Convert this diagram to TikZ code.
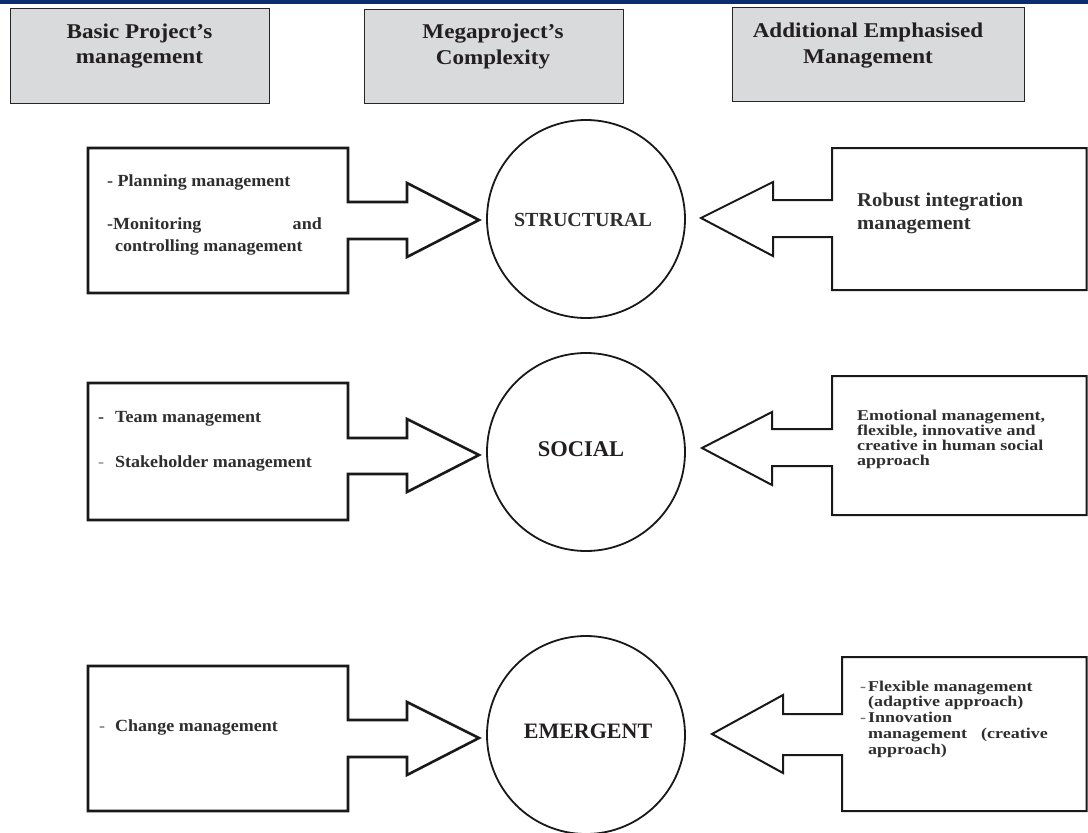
\documentclass[tikz,border=0pt]{standalone}
\usepackage{fontspec}
\setmainfont{Liberation Serif}
\newfontfamily\headfont[FakeStretch=1.1]{Liberation Serif}
\newfontfamily\bodyfont[FakeStretch=1.06]{Liberation Serif}
\newfontfamily\tightfont[FakeStretch=1.2]{Liberation Serif}
\definecolor{barblue}{HTML}{0B2D70}
\definecolor{headgray}{HTML}{D9DADB}
\definecolor{textdark}{HTML}{231F20}
\definecolor{textgray}{HTML}{2E2E2E}
\begin{document}
\begin{tikzpicture}[x=1pt,y=-1pt,
  hdbox/.style={draw=black!85, fill=headgray, line width=1.4pt, inner sep=0pt},
  hdtext/.style={font=\headfont\bfseries\fontsize{21}{25}\selectfont, text=textdark, inner sep=0pt, anchor=base},
  bodytext/.style={font=\bodyfont\bfseries\fontsize{17}{18}\selectfont, text=textgray, inner sep=0pt, anchor=base west},
  bodyright/.style={bodytext, anchor=base east},
  bigbody/.style={bodytext, font=\bodyfont\bfseries\fontsize{19.5}{22}\selectfont},
  tightbody/.style={bodytext, font=\tightfont\bfseries\fontsize{15}{15}\selectfont},
  tightright/.style={tightbody, anchor=base east},
  leftshape/.style={draw=black!90, line width=2.6pt, line join=miter},
  rightshape/.style={draw=black!90, line width=2pt, line join=miter},
  ring/.style={circle, draw=black!90, line width=1.8pt, minimum size=198pt, inner sep=0pt},
  ringtext/.style={font=\bfseries, text=textdark, inner sep=0pt, anchor=base}
]
\useasboundingbox (0,0) rectangle (1088,833);
\fill[white] (0,0) rectangle (1088,833);

% top rule
\fill[barblue] (0,0) rectangle (1088,4);

% column headings
\node[hdbox, minimum width=259pt, minimum height=95pt, anchor=north west] (hdBasic) at (10,8) {};
\node[hdtext] (hdBasicA) at (139.5,38) {Basic Project’s};
\node[hdtext] (hdBasicB) at (139.5,63) {management};

\node[hdbox, minimum width=259pt, minimum height=94pt, anchor=north west] (hdMega) at (364,9) {};
\node[hdtext] (hdMegaA) at (493,38) {Megaproject’s};
\node[hdtext] (hdMegaB) at (493,64) {Complexity};

\node[hdbox, minimum width=292pt, minimum height=94pt, anchor=north west] (hdAdd) at (732,7) {};
\node[hdtext] (hdAddA) at (868,37) {Additional Emphasised};
\node[hdtext] (hdAddB) at (868,63) {Management};

% complexity circles
\node[ring] (structural) at (586,219) {};
\node[ringtext, font=\bfseries\fontsize{20}{24}\selectfont, text=textgray] (structuralLbl) at (583,226) {STRUCTURAL};
\node[ring] (social) at (586,452) {};
\node[ringtext, font=\bfseries\fontsize{22.5}{26}\selectfont] (socialLbl) at (581,456) {SOCIAL};
\node[ring] (emergent) at (586,735) {};
\node[ringtext, font=\bfseries\fontsize{22}{26}\selectfont] (emergentLbl) at (588,738) {EMERGENT};

% basic management boxes with block arrows pointing right
\draw[leftshape] (88,148) -- (348,148) -- (348,202) -- (407,202) -- (407,183) -- (479,220)
  -- (407,257) -- (407,239) -- (348,239) -- (348,293) -- (88,293) -- cycle;
\draw[leftshape] (88,383) -- (348,383) -- (348,438) -- (407,438) -- (407,419) -- (479,455)
  -- (407,492) -- (407,474) -- (348,474) -- (348,520) -- (88,520) -- cycle;
\draw[leftshape] (88,666) -- (348,666) -- (348,720) -- (407,720) -- (407,702) -- (479,738)
  -- (407,775) -- (407,757) -- (348,757) -- (348,811) -- (88,811) -- cycle;

% additional management boxes with block arrows pointing left
\draw[rightshape] (1086.5,148) -- (832,148) -- (832,200) -- (773,200) -- (773,182) -- (701,218)
  -- (773,256) -- (773,237) -- (832,237) -- (832,290) -- (1086.5,290) -- cycle;
\draw[rightshape] (1086.5,376) -- (832,376) -- (832,429) -- (772,429) -- (772,412) -- (702,448)
  -- (772,485) -- (772,466) -- (832,466) -- (832,515) -- (1086.5,515) -- cycle;
\draw[rightshape] (1086.5,657) -- (842,657) -- (842,714) -- (783,714) -- (783,695) -- (712,734)
  -- (783,773) -- (783,755) -- (842,755) -- (842,811) -- (1086.5,811) -- cycle;

% structural row texts
\node[bodytext] (plan) at (107,186) {- Planning management};
\node[bodytext] (monA) at (107,229) {-Monitoring};
\node[bodyright] (monB) at (322,229) {and};
\node[bodytext] (monC) at (115,251) {controlling management};
\node[bigbody] (robA) at (857,206) {Robust integration};
\node[bigbody] (robB) at (857,229) {management};

% social row texts
\node[bodytext] (teamDash) at (98,422) {-};
\node[bodytext] (team) at (115,422) {Team management};
\node[bodytext, text=black!45] (stakeDash) at (98,467) {-};
\node[bodytext] (stake) at (115,467) {Stakeholder management};
\node[tightbody] (emoA) at (857,420) {Emotional management,};
\node[tightbody] (emoB) at (857,435) {flexible, innovative and};
\node[tightbody] (emoC) at (857,450) {creative in human social};
\node[tightbody] (emoD) at (857,465) {approach};

% emergent row texts
\node[bodytext, text=black!55] (changeDash) at (99,731) {-};
\node[bodytext] (change) at (115,731) {Change management};
\node[tightbody, text=black!55] (flexDash) at (860,691) {-};
\node[tightbody] (flexA) at (868,691) {Flexible management};
\node[tightbody] (flexB) at (868,706) {(adaptive approach)};
\node[tightbody, text=black!55] (innDash) at (860,722) {-};
\node[tightbody] (innA) at (868,722) {Innovation};
\node[tightbody] (innB) at (868,738) {management};
\node[tightright] (innC) at (1048,738) {(creative};
\node[tightbody] (innD) at (868,754) {approach)};
\end{tikzpicture}
\end{document}
